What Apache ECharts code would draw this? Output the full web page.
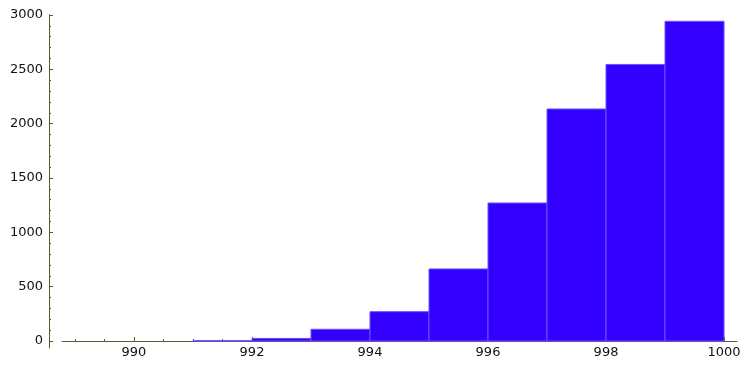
<!DOCTYPE html>
<html><head><meta charset="utf-8">
<script src="https://cdn.jsdelivr.net/npm/echarts@6/dist/echarts.min.js"></script>
<style>html,body{margin:0;padding:0;background:#fff}#c{width:750px;height:369px}</style>
</head><body><div id="c"></div>
<script>
// histogram bins (left edge, right edge) and counts
var binStarts = [991, 992, 993, 994, 995, 996, 997, 998, 999];
var binEnds   = [992, 993, 994, 995, 996, 997, 998, 999, 1000];
var counts    = [3, 24, 108, 270, 663, 1270, 2135, 2545, 2942];
var xMajorTicks = [990, 992, 994, 996, 998, 1000];
var xMinorTicks = [989, 989.5, 990, 990.5, 991, 991.5, 992, 992.5, 993, 993.5, 994, 994.5, 995, 995.5, 996, 996.5, 997, 997.5, 998, 998.5, 999, 999.5, 1000];

var data = binStarts.map(function(s, i){ return [s, binEnds[i], counts[i]]; });
var axisCol = '#5e5636';
var font = 'DejaVu Sans';
var plain = function(v){ return String(v); };

var chart = echarts.init(document.getElementById('c'));
chart.setOption({
  animation: false,
  backgroundColor: '#fff',
  grid: [
    {left: 62, right: 13, top: 15, bottom: 28},
    {left: 49, width: 1, top: 15, bottom: 21}
  ],
  xAxis: [
    {type: 'value', gridIndex: 0, min: 988.78, max: 1000.22, position: 'bottom',
     axisLine: {show: true, onZero: false, lineStyle: {color: axisCol, width: 1}},
     axisTick: {show: true, inside: true, length: 2, customValues: xMinorTicks, lineStyle: {color: axisCol}},
     axisLabel: {show: false}, splitLine: {show: false}},
    {type: 'value', gridIndex: 0, min: 988.78, max: 1000.22, position: 'bottom',
     axisLine: {show: false, onZero: false},
     axisTick: {show: true, inside: true, length: 4, customValues: xMajorTicks, lineStyle: {color: axisCol}},
     axisLabel: {show: true, customValues: xMajorTicks, formatter: plain, color: '#111', fontFamily: font, fontSize: 13, margin: 5},
     splitLine: {show: false}},
    {type: 'value', gridIndex: 1, show: false, min: 0, max: 1}
  ],
  yAxis: [
    {type: 'value', gridIndex: 0, min: 0, max: 3000, interval: 500, offset: 13,
     axisLine: {show: true, lineStyle: {color: axisCol}},
     axisTick: {show: true, inside: true, length: 4, lineStyle: {color: axisCol}},
     minorTick: {show: true, splitNumber: 5, length: 2, lineStyle: {color: axisCol}},
     axisLabel: {formatter: plain, color: '#111', fontFamily: font, fontSize: 13, margin: 6},
     splitLine: {show: false}, minorSplitLine: {show: false}},
    {type: 'value', gridIndex: 1, min: 0, max: 1,
     axisLine: {show: true, lineStyle: {color: axisCol}},
     axisTick: {show: false}, axisLabel: {show: false}, splitLine: {show: false}}
  ],
  series: [{
    type: 'custom',
    xAxisIndex: 0, yAxisIndex: 0,
    data: data,
    renderItem: function(params, api){
      var p0 = api.coord([api.value(0), api.value(2)]);
      var p1 = api.coord([api.value(1), 0]);
      return {
        type: 'rect',
        shape: {x: p0[0], y: p0[1], width: p1[0] - p0[0], height: p1[1] - p0[1]},
        style: {fill: '#3300ff', stroke: '#6a50ff', lineWidth: 1}
      };
    },
    encode: {x: [0, 1], y: 2}
  }]
});
</script></body></html>
